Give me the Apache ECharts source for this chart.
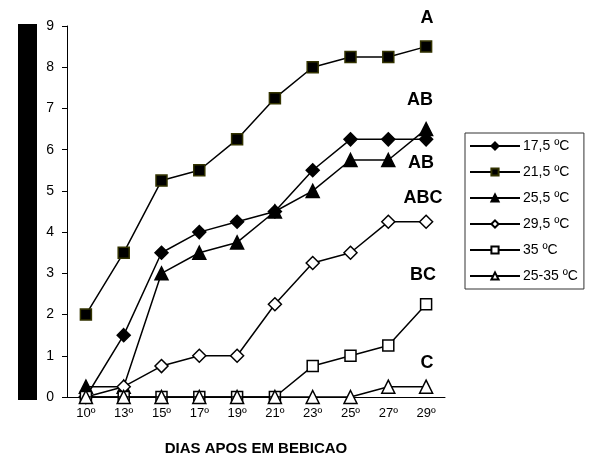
<!DOCTYPE html>
<html><head><meta charset="utf-8">
<script src="https://cdn.jsdelivr.net/npm/echarts@6/dist/echarts.min.js"></script>
<style>html,body{margin:0;padding:0;background:#fff}#c{width:592px;height:456px}</style>
</head><body><div id="c"></div>
<script>
var categories = ['10º','13º','15º','17º','19º','21º','23º','25º','27º','29º'];
var s175 = [0, 1.5, 3.5, 4, 4.25, 4.5, 5.5, 6.25, 6.25, 6.25];
var s215 = [2, 3.5, 5.25, 5.5, 6.25, 7.25, 8, 8.25, 8.25, 8.5];
var s255 = [0.25, 0.25, 3, 3.5, 3.75, 4.5, 5, 5.75, 5.75, 6.5];
var s295 = [0, 0.25, 0.75, 1, 1, 2.25, 3.25, 3.5, 4.25, 4.25];
var s35 = [0, 0, 0, 0, 0, 0, 0.75, 1, 1.25, 2.25];
var s2535 = [0, 0, 0, 0, 0, 0, 0, 0, 0.25, 0.25];
var seriesNames = ['17,5 ºC','21,5 ºC','25,5 ºC','29,5 ºC','35 ºC','25-35 ºC'];
var groupLabels = ['A','AB','AB','ABC','BC','C'];

var chart = echarts.init(document.getElementById('c'), null, {renderer:'canvas'});
function mk(name, data, symbol, size, fill, border, z){
  return {name:name, type:'line', data:data, symbol:symbol, symbolSize:size,
    showAllSymbol:true, z:z,
    lineStyle:{color:'#000', width:1.5},
    itemStyle:{color:fill, borderColor:border, borderWidth:1.5},
    emphasis:{disabled:true}, animation:false};
}
var font = 'Arial, "Liberation Sans", sans-serif';
var labelPos = [[427,18],[420,100],[421,163],[423,198],[423,275],[427,363]];
var graphics = [{type:'rect', shape:{x:18,y:24,width:19,height:376}, style:{fill:'#000'}}];
groupLabels.forEach(function(t,i){
  graphics.push({type:'text', x:labelPos[i][0], y:labelPos[i][1],
    style:{text:t, font:'bold 18px '+font, fill:'#000', textAlign:'center', textVerticalAlign:'middle'}});
});
chart.setOption({
  animation:false,
  grid:{left:67, right:147, top:26, bottom:59, containLabel:false, outerBoundsMode:'none'},
  legend:{orient:'vertical', left:465, top:133, padding:[6,6,6,4], itemWidth:50, itemHeight:9, itemGap:12,
    borderColor:'#333', borderWidth:1, backgroundColor:'#fff',
    textStyle:{color:'#000', fontSize:14, fontFamily:font, padding:[0,0,0,-2]}, data:seriesNames},
  xAxis:{type:'category', data:categories, boundaryGap:true,
    name:'DIAS APOS EM BEBICAO', nameLocation:'middle', nameGap:44,
    nameTextStyle:{fontWeight:'bold', fontSize:15, fontFamily:font, color:'#000'},
    axisLine:{lineStyle:{color:'#000', width:1}},
    axisTick:{inside:true, length:5, lineStyle:{color:'#000'}},
    axisLabel:{color:'#000', fontSize:13, fontFamily:font, margin:10}},
  yAxis:{type:'value', min:0, max:9, interval:1,
    axisLine:{show:true, lineStyle:{color:'#000', width:1}},
    axisTick:{show:true, length:5, lineStyle:{color:'#000'}},
    splitLine:{show:false},
    axisLabel:{color:'#000', fontSize:14, fontFamily:font, margin:13}},
  graphic:graphics,
  series:[
    mk(seriesNames[0], s175, 'diamond', 13, '#000', '#000', 3),
    mk(seriesNames[1], s215, 'rect', 11, '#000', '#333300', 3),
    mk(seriesNames[2], s255, 'triangle', 13, '#000', '#000', 3),
    mk(seriesNames[3], s295, 'diamond', 13, '#fff', '#000', 4),
    mk(seriesNames[4], s35, 'rect', 11, '#fff', '#000', 5),
    mk(seriesNames[5], s2535, 'triangle', 13, '#fff', '#000', 6)
  ]
});
</script></body></html>
